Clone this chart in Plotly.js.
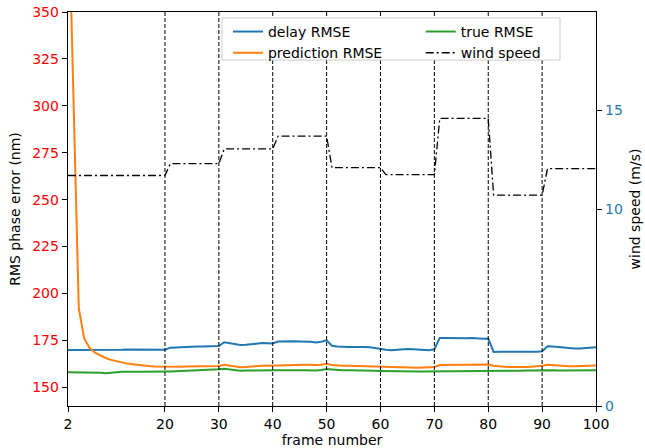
<!DOCTYPE html>
<html>
<head>
<meta charset="utf-8">
<script src="https://cdn.plot.ly/plotly-3.0.1.min.js"></script>
<style>html,body{margin:0;padding:0;background:#fff;}#chart{width:645px;height:448px;}</style>
</head>
<body>
<div id="chart"></div>
<script>
// frame numbers (x values)
var frames = [2,3,4,5,6,7,8,9,10,11,12,13,14,15,16,17,18,19,20,
  21,22,23,24,25,26,27,28,29,30,31,32,33,34,35,36,37,38,39,40,
  41,42,43,44,45,46,47,48,49,50,51,52,53,54,55,56,57,58,59,60,
  61,62,63,64,65,66,67,68,69,70,71,72,73,74,75,76,77,78,79,80,
  81,82,83,84,85,86,87,88,89,90,91,92,93,94,95,96,97,98,99,100];

var delayRMSE = [169.8,169.8,169.7,169.7,169.7,169.6,169.6,169.7,169.8,170.0,170.0,170.1,170.1,170.2,170.2,170.3,170.2,170.1,170.0,
  171.1,171.3,171.4,171.5,171.6,171.7,171.7,171.7,171.8,172.0,
  174.0,173.6,172.9,172.5,172.6,173.0,173.3,173.6,173.5,173.3,
  174.4,174.5,174.5,174.5,174.4,174.4,174.2,173.9,174.2,175.0,
  172.1,171.7,171.5,171.4,171.5,171.6,171.5,171.3,171.0,170.6,
  170.0,169.7,170.0,170.3,170.4,170.3,170.1,169.8,169.7,170.2,
  176.3,176.3,176.2,176.1,176.0,176.1,176.3,176.0,175.8,175.9,
  168.8,168.9,168.9,168.8,168.7,168.6,168.6,168.7,168.9,169.2,
  171.8,171.7,171.4,171.0,170.7,170.6,170.7,170.8,171.0,171.3];

var predictionRMSE = [420,303,192,176,171,168.4,166.8,165.6,164.6,163.8,163.2,162.6,162.2,161.8,161.5,161.3,161.1,161.0,160.9,
  160.9,161.0,160.9,161.0,161.1,161.1,161.0,161.1,161.2,161.3,
  162.0,161.6,160.9,160.6,160.8,161.1,161.4,161.5,161.5,161.6,
  161.8,161.8,161.8,161.9,161.9,162.0,162.0,161.8,162.0,162.5,
  161.9,161.5,161.4,161.4,161.3,161.3,161.2,161.1,161.0,160.9,
  160.8,160.7,160.7,160.6,160.5,160.5,160.4,160.5,160.6,160.8,
  161.8,161.8,161.8,161.9,161.9,162.0,162.0,161.9,161.9,162.1,
  161.5,161.1,160.9,160.8,160.7,160.7,160.8,160.9,161.1,161.4,
  162.0,161.8,161.4,161.2,161.2,161.2,161.2,161.3,161.4,161.6];

var trueRMSE = [158.0,158.0,158.0,158.1,158.0,157.9,157.7,157.5,157.6,158.0,158.3,158.4,158.4,158.3,158.3,158.4,158.4,158.4,158.4,
  158.4,158.5,158.6,158.7,158.8,158.9,158.9,159.0,159.2,159.6,
  159.9,159.5,158.9,158.8,158.9,159.0,159.1,159.1,159.1,159.1,
  159.1,159.0,159.0,158.9,159.0,159.0,158.9,158.9,159.2,159.7,
  159.5,159.2,159.1,159.1,159.1,159.0,158.9,158.8,158.8,158.7,
  158.6,158.6,158.5,158.5,158.4,158.4,158.4,158.4,158.4,158.4,
  158.5,158.5,158.5,158.6,158.5,158.4,158.5,158.6,158.6,158.6,
  158.7,158.7,158.6,158.6,158.7,158.8,158.9,159.0,159.1,159.3,
  159.4,159.1,158.9,158.9,158.9,159.0,159.0,159.1,159.1,159.1];

// wind speed: step endpoints
var windFrames = [2,20,21,30,31,40,41,50,51,60,61,70,71,80,81,90,91,100];
var windSpeed  = [11.7,11.7,12.3,12.3,13.05,13.05,13.7,13.7,12.1,12.1,11.75,11.75,14.6,14.6,10.7,10.7,12.05,12.05];

var segmentBoundaries = [20,30,40,50,60,70,80,90];
var xTicks = [2,20,30,40,50,60,70,80,90,100];
var leftTicks = [150,175,200,225,250,275,300,325,350];
var rightTicks = [0,10,15];

var FONT = 'DejaVu Sans, sans-serif';
var FS = 14;

var traces = [
  {x: frames, y: delayRMSE, name: 'delay RMSE', type: 'scatter', mode: 'lines',
   line: {color: '#1f77b4', width: 2}, legend: 'legend'},
  {x: frames, y: predictionRMSE, name: 'prediction RMSE', type: 'scatter', mode: 'lines',
   line: {color: '#ff7f0e', width: 2}, legend: 'legend'},
  {x: frames, y: trueRMSE, name: 'true RMSE', type: 'scatter', mode: 'lines',
   line: {color: '#2ca02c', width: 2}, legend: 'legend2'},
  {x: windFrames, y: windSpeed, name: 'wind speed', type: 'scatter', mode: 'lines', yaxis: 'y2',
   line: {color: '#000000', width: 1.3, dash: '8px,3px,2px,3px'}, legend: 'legend2'}
];

var shapes = segmentBoundaries.map(function (b) {
  return {type: 'line', xref: 'x', yref: 'paper', x0: b, x1: b, y0: 0, y1: 1,
          line: {color: '#000', width: 1, dash: '4px,2px'}, layer: 'above'};
});
// legend frame
shapes.push({type: 'rect', xref: 'paper', yref: 'paper', x0: 0.2917, x1: 0.9318, y0: 0.878, y1: 0.985,
  line: {color: '#cccccc', width: 1}, fillcolor: 'rgba(255,255,255,1)', layer: 'above'});

var legendCommon = {
  yanchor: 'top', xanchor: 'left', orientation: 'v',
  bgcolor: 'rgba(0,0,0,0)', borderwidth: 0, tracegroupgap: 0,
  font: {family: FONT, size: FS, color: '#000'}
};

var layout = {
  width: 645, height: 448,
  margin: {l: 68, r: 49, t: 12, b: 42, pad: 0},
  paper_bgcolor: '#fff', plot_bgcolor: '#fff',
  font: {family: FONT, size: FS, color: '#000'},
  showlegend: true,
  legend: Object.assign({x: 0.303, y: 0.99}, legendCommon),
  legend2: Object.assign({x: 0.668, y: 0.99}, legendCommon),
  xaxis: {
    range: [2, 100], tickvals: xTicks, ticktext: xTicks.map(String),
    showgrid: false, zeroline: false, showline: true, mirror: true,
    linecolor: '#000', linewidth: 1.3, ticks: 'outside', ticklen: 5, tickcolor: '#000', tickwidth: 1,
    tickfont: {family: FONT, size: FS, color: '#000'},
    title: {text: 'frame number', font: {family: FONT, size: FS, color: '#000'}, standoff: 4}
  },
  yaxis: {
    range: [140, 350], tickvals: leftTicks,
    showgrid: false, zeroline: false, showline: true, mirror: false,
    linecolor: '#000', linewidth: 1.3, ticks: 'outside', ticklen: 5, tickcolor: '#000', tickwidth: 1,
    tickfont: {family: FONT, size: FS, color: '#ff0000'},
    title: {text: 'RMS phase error (nm)', font: {family: FONT, size: FS, color: '#000'}, standoff: 8}
  },
  yaxis2: {
    range: [0, 20], tickvals: rightTicks, overlaying: 'y', side: 'right',
    showgrid: false, zeroline: false, showline: true,
    linecolor: '#000', linewidth: 1.3, ticks: 'outside', ticklen: 5, tickcolor: '#000', tickwidth: 1,
    tickfont: {family: FONT, size: FS, color: '#1f77b4'},
    title: {text: 'wind speed (m/s)', font: {family: FONT, size: FS, color: '#000'}, standoff: 8}
  },
  shapes: shapes
};

Plotly.newPlot('chart', traces, layout, {staticPlot: true, displayModeBar: false});
</script>
</body>
</html>
